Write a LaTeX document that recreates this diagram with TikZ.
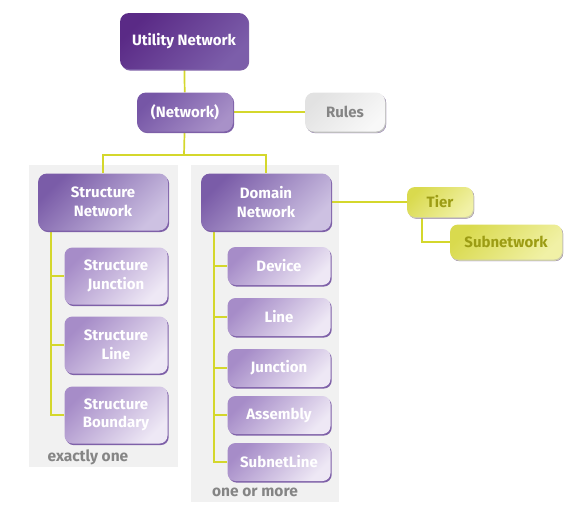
\documentclass[tikz,border=0pt]{standalone}
\usepackage{fontspec}
\setmainfont{Fira Sans}
\usepackage{tikz}
\usetikzlibrary{shadows,positioning,backgrounds}
\definecolor{unA}{HTML}{5A2A86}
\definecolor{unB}{HTML}{7C5EAA}
\definecolor{netA}{HTML}{7656A6}
\definecolor{netB}{HTML}{A891C8}
\definecolor{headA}{HTML}{7A5CA8}
\definecolor{headB}{HTML}{CDC1E2}
\definecolor{kidA}{HTML}{A68CC8}
\definecolor{kidB}{HTML}{EEE8F5}
\definecolor{shade}{HTML}{7E60A8}
\definecolor{ruleA}{HTML}{E2E2E2}
\definecolor{ruleB}{HTML}{F8F8F8}
\definecolor{tierA}{HTML}{D9DA4E}
\definecolor{tierB}{HTML}{F1F1A6}
\definecolor{tiertext}{HTML}{9C9C14}
\definecolor{linkc}{HTML}{D4D72C}
\definecolor{panelc}{HTML}{F1F1F1}
\definecolor{notec}{HTML}{858585}
\tikzstyle{box}=[rectangle,rounded corners=9pt,text=white,align=center,
  font=\fontsize{15}{18.5}\selectfont\bfseries,inner sep=2pt,
  shading angle=45,
  general shadow={shadow xshift=1.2pt,shadow yshift=-1.6pt,fill=shade}]
\tikzstyle{top}=[box,left color=unA,right color=unB,shading angle=45,
  minimum width=128pt,minimum height=56pt]
\tikzstyle{net}=[box,left color=netA,right color=netB,shading angle=45,
  minimum width=96pt,minimum height=39pt]
\tikzstyle{head}=[box,left color=headA,right color=headB,shading angle=45,
  minimum width=130pt,minimum height=57pt]
\tikzstyle{kid}=[box,left color=kidA,right color=kidB,shading angle=45,
  minimum width=103pt,minimum height=57pt,rounded corners=8pt]
\tikzstyle{small}=[kid,minimum height=38pt]
\tikzstyle{rule}=[box,left color=ruleA,right color=ruleB,shading angle=45,
  text=notec,minimum width=80pt,minimum height=39pt,
  general shadow={shadow xshift=1pt,shadow yshift=-1.4pt,fill=black!25}]
\tikzstyle{tier}=[box,left color=tierA,right color=tierB,shading angle=45,
  text=tiertext,minimum height=30pt,rounded corners=8pt,
  general shadow={shadow xshift=1pt,shadow yshift=-1.4pt,fill=tierA!60!black!40}]
\tikzstyle{link}=[draw=linkc,line width=1.7pt]
\tikzstyle{note}=[text=notec,font=\fontsize{15.5}{18}\selectfont\bfseries]

\begin{document}
\begin{tikzpicture}[x=1pt,y=-1pt]
  \useasboundingbox (0,0) rectangle (582,522);

  \path (184,41) node (un) [top] {Utility Network};
  \path (185,112) node (net) [net] {(Network)};
  \path (345,112) node (rules) [rule] {Rules};

  \path (103,202) node (sn) [head] {Structure\\Network};
  \path (266,202) node (dn) [head] {Domain\\Network};

  \path (116,276) node (sj) [kid] {Structure\\Junction};
  \path (116,345) node (sl) [kid] {Structure\\Line};
  \path (116,415) node (sb) [kid] {Structure\\Boundary};

  \path (279,266) node (dev) [small] {Device};
  \path (279,317) node (line) [small] {Line};
  \path (279,368) node (junc) [small] {Junction};
  \path (279,415) node (asm) [small] {Assembly};
  \path (279,462) node (snl) [small] {SubnetLine};

  \path (440,202) node (tier) [tier,minimum width=66pt] {Tier};
  \path (506,242) node (subnet) [tier,minimum width=112pt,minimum height=35pt] {Subnetwork};

  \path (88,457) node (one) [note] {exactly one};
  \path (255,492) node (more) [note] {one or more};

  \begin{scope}[on background layer]
  % grey panels
  \fill[panelc] (29,165) rectangle (178,467);
  \fill[panelc] (191,165) rectangle (339,502);

  % connectors
  \coordinate (split) at (184,155);
  \draw[link] (un) -- (net);
  \draw[link] (net) -- (rules);
  \draw[link] (net) -- (split);
  \draw[link] (split) -| (sn);
  \draw[link] (split) -| (dn);

  \coordinate (strunk) at ([xshift=13pt]sn.south west);
  \draw[link] (strunk) |- (sj);
  \draw[link] (strunk) |- (sl);
  \draw[link] (strunk) |- (sb);

  \coordinate (dtrunk) at ([xshift=13pt]dn.south west);
  \foreach \k in {dev,line,junc,asm,snl}
    \draw[link] (dtrunk) |- (\k);

  \draw[link] (dn) -- (tier);
  \coordinate (ttrunk) at ([xshift=15pt]tier.south west);
  \draw[link] (ttrunk) |- (subnet);
  \end{scope}

\end{tikzpicture}
\end{document}
